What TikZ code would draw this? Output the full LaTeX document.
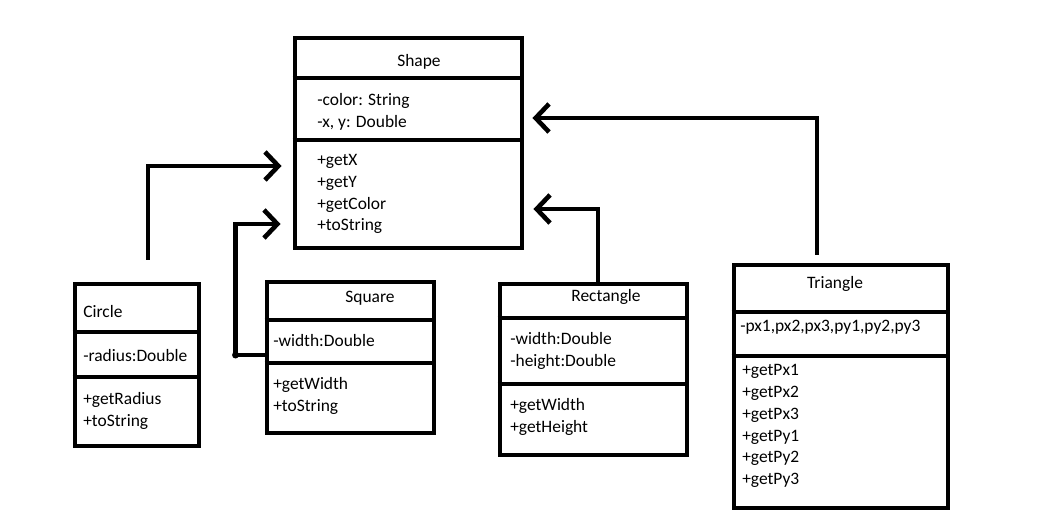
\documentclass[tikz,border=0pt]{standalone}
\usepackage{fontspec}
\setmainfont{Carlito}
\usepackage{tikz}
\usetikzlibrary{arrows.meta, fit, calc}

\tikzset{
  classbox/.style={draw=black, line width=3.5pt, inner sep=0pt, fill=white},
  sepline/.style={draw=black, line width=3.5pt},
  lbl/.style={inner sep=0pt, yshift=-1.4pt, font=\fontsize{12.4}{15.6}\selectfont, align=left},
  link/.style={draw=black, line width=3.3pt, line join=miter,
    -{Straight Barb[length=9.5pt, width=20pt, line width=3.3pt]}},
}

\begin{document}
\begin{tikzpicture}[x=0.025cm, y=-0.025cm]
\useasboundingbox (0,0) rectangle (1050,530);

% Shape class
\node[classbox, fit={(295,38) (522,248)}] (shape) {};
\draw[sepline] (shape.west |- 0,78) -- (shape.east |- 0,78);
\draw[sepline] (shape.west |- 0,140) -- (shape.east |- 0,140);
\node[lbl] (shape-name) at (419,60) {Shape};
\node[lbl, anchor=west] (shape-attr) at (317,110) {-color: String\\-x, y: Double};
\node[lbl, anchor=west] (shape-ops) at (317,192) {+getX\\+getY\\+getColor\\+toString};

% Circle class
\node[classbox, fit={(75,284) (199,446)}] (circ) {};
\draw[sepline] (circ.west |- 0,332) -- (circ.east |- 0,332);
\draw[sepline] (circ.west |- 0,377) -- (circ.east |- 0,377);
\node[lbl, anchor=west] (circ-name) at (83,310) {Circle};
\node[lbl, anchor=west] (circ-attr) at (83,354) {-radius:Double};
\node[lbl, anchor=west] (circ-ops) at (83,409) {+getRadius\\+toString};

% Square class
\node[classbox, fit={(267,282) (434,433)}] (sq) {};
\draw[sepline] (sq.west |- 0,320) -- (sq.east |- 0,320);
\draw[sepline] (sq.west |- 0,363) -- (sq.east |- 0,363);
\node[lbl] (sq-name) at (370,296) {Square};
\node[lbl, anchor=west] (sq-attr) at (273,339) {-width:Double};
\node[lbl, anchor=west] (sq-ops) at (273,394) {+getWidth\\+toString};

% Rectangle class
\node[classbox, fit={(500,284) (687,455)}] (rect) {};
\draw[sepline] (rect.west |- 0,318) -- (rect.east |- 0,318);
\draw[sepline] (rect.west |- 0,384) -- (rect.east |- 0,384);
\node[lbl] (rect-name) at (606,295) {Rectangle};
\node[lbl, anchor=west] (rect-attr) at (510,349) {-width:Double\\-height:Double};
\node[lbl, anchor=west] (rect-ops) at (510,415) {+getWidth\\+getHeight};

% Triangle class
\node[classbox, fit={(734,265) (948,508)}] (tri) {};
\draw[sepline] (tri.west |- 0,312) -- (tri.east |- 0,312);
\draw[sepline] (tri.west |- 0,356) -- (tri.east |- 0,356);
\node[lbl] (tri-name) at (835,282) {Triangle};
\node[lbl, anchor=west] (tri-attr) at (740,325) {-px1,px2,px3,py1,py2,py3};
\node[lbl, anchor=west] (tri-ops) at (742,424) {+getPx1\\+getPx2\\+getPx3\\+getPy1\\+getPy2\\+getPy3};

% inheritance links
\draw[link] ([shift={(11,-22)}]circ.north) |- ($(shape.west |- 0,166)+(-11,0)$);
\draw[link] (sq.west |- 0,355) -- ++(-29,0) coordinate (sq-bend)
  |- ($(shape.west |- 0,224)+(-12,0)$);
\fill (sq-bend) circle (3.5);
\draw[link] ([shift={(4.5,0)}]rect.north) |- ($(shape.east |- 0,209)+(9,0)$);
\draw[link] ([shift={(-24,-8)}]tri.north) |- ($(shape.east |- 0,118)+(8,0)$);

\end{tikzpicture}
\end{document}
